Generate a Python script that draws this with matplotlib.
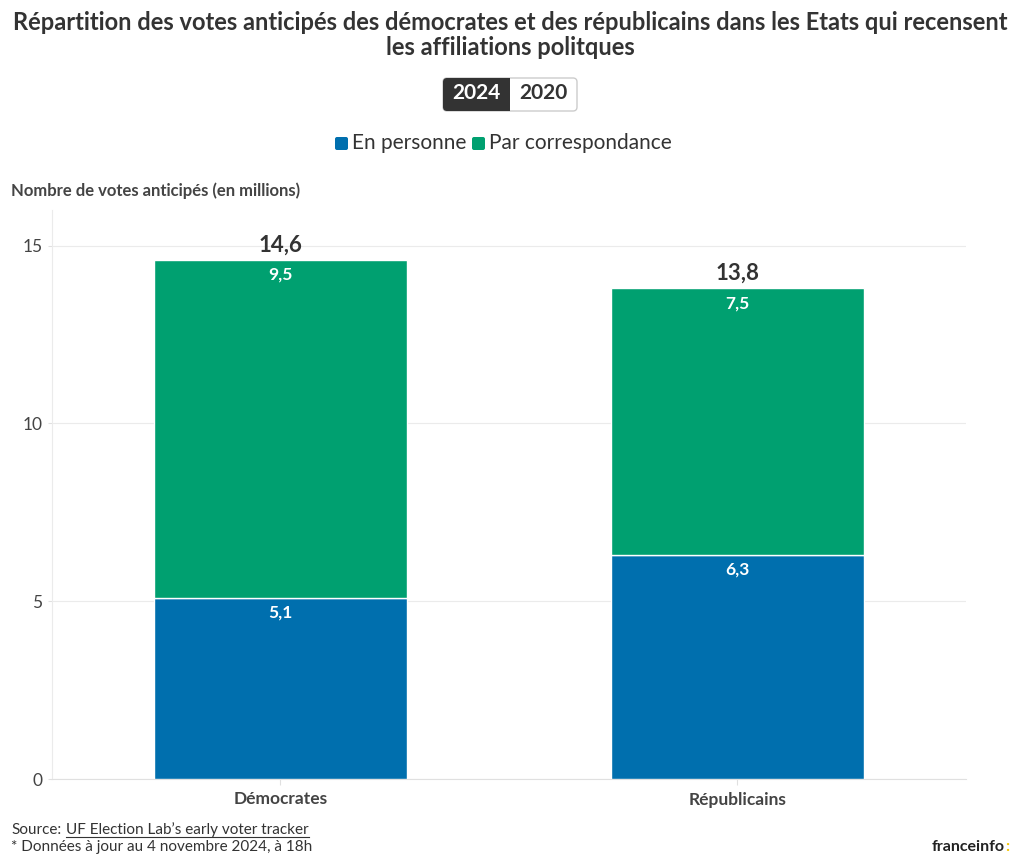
import matplotlib.pyplot as plt
from matplotlib.patches import FancyBboxPatch, Rectangle
from matplotlib.lines import Line2D
from matplotlib.transforms import IdentityTransform

# data (millions of early votes)
categories = ['Démocrates', 'Républicains']
en_personne = [5.1, 6.3]
par_correspondance = [9.5, 7.5]
yticks = [0, 5, 10, 15]

BLUE = '#006fae'
GREEN = '#00a070'
DARK = '#333333'
W, H = 1020, 868

plt.rcParams['font.family'] = ['Lato', 'DejaVu Sans']


def fx(px):
    return px / W


def fy(py):
    return 1 - py / H


def fmt(v):
    return f'{v:.1f}'.replace('.', ',')


fig = plt.figure(figsize=(W / 100, H / 100), dpi=100)
ax = fig.add_axes([fx(52), fy(779), fx(966) - fx(52), fy(210) - fy(779)])

x = list(range(len(categories)))
totals = [a + b for a, b in zip(en_personne, par_correspondance)]
ax.bar(x, en_personne, width=0.554, color=BLUE, edgecolor='white', linewidth=1, zorder=3)
ax.bar(x, par_correspondance, width=0.554, bottom=en_personne, color=GREEN,
       edgecolor='white', linewidth=1, zorder=3)

for i in x:
    ax.annotate(fmt(en_personne[i]), (i, en_personne[i]), xytext=(0, -5),
                textcoords='offset points', ha='center', va='top',
                color='white', fontsize=12.5, fontweight='bold', zorder=4)
    ax.annotate(fmt(par_correspondance[i]), (i, totals[i]), xytext=(0, -5),
                textcoords='offset points', ha='center', va='top',
                color='white', fontsize=12.5, fontweight='bold', zorder=4)
    ax.annotate(fmt(totals[i]), (i, totals[i]), xytext=(0, 3),
                textcoords='offset points', ha='center', va='bottom',
                color=DARK, fontsize=16, fontweight='bold', zorder=4)

ax.set_xlim(-0.5, 1.5)
ax.set_ylim(0, 16)
ax.set_yticks(yticks)
ax.set_yticklabels([str(t) for t in yticks], fontsize=12.5, color='#444444')
ax.set_xticks(x)
ax.set_xticklabels(categories, fontsize=12.5, fontweight='bold', color='#444444')
ax.grid(axis='y', color='#ebebeb', linewidth=0.8, zorder=0)
for s in ['top', 'right']:
    ax.spines[s].set_visible(False)
ax.spines['left'].set_color('#ebebeb')
ax.spines['bottom'].set_color('#e0e0e0')
ax.tick_params(axis='y', length=3, color='#e0e0e0', pad=4)
ax.tick_params(axis='x', length=4, color='#e0e0e0', pad=5)

# title
fig.text(0.5, fy(35), 'Répartition des votes anticipés des démocrates et des républicains dans les Etats qui recensent\nles affiliations politques',
         ha='center', va='center', fontsize=17, fontweight='bold', color=DARK, linespacing=1.1)

# year toggle (pixel coordinates from bottom-left)
ident = IdentityTransform()
outer = FancyBboxPatch((443, H - 111), 134, 33, boxstyle='round,pad=0,rounding_size=4',
                       facecolor='white', edgecolor='#cccccc', linewidth=1, transform=ident)
inner = FancyBboxPatch((443, H - 111), 67, 33, boxstyle='round,pad=0,rounding_size=4',
                       facecolor=DARK, edgecolor='none', transform=ident)
square = Rectangle((490, H - 111), 20, 33, facecolor=DARK, edgecolor='none', transform=ident)
fig.patches.extend([outer, inner, square])
fig.text(fx(476.5), fy(93), '2024', ha='center', va='center', fontsize=15,
         fontweight='bold', color='white')
fig.text(fx(543.5), fy(93), '2020', ha='center', va='center', fontsize=15,
         fontweight='bold', color=DARK)

# legend
for sx, col, label in [(335, BLUE, 'En personne'), (472, GREEN, 'Par correspondance')]:
    fig.patches.append(FancyBboxPatch((sx, H - 150), 13, 13, boxstyle='round,pad=0,rounding_size=2',
                                      facecolor=col, edgecolor='none', transform=ident))
    fig.text(fx(sx + 17), fy(143), label, ha='left', va='center', fontsize=15, color=DARK)

# y axis title
fig.text(fx(11), fy(191), 'Nombre de votes anticipés (en millions)', ha='left', va='center',
         fontsize=12, fontweight='bold', color='#444444')

# footer
src = fig.text(fx(11), fy(834), 'Source:', ha='left', va='baseline', fontsize=11, color=DARK)
fig.canvas.draw()
sb = src.get_window_extent()
link = fig.text((sb.x1 + 5) / W, fy(834), 'UF Election Lab’s early voter tracker',
                ha='left', va='baseline', fontsize=11, color=DARK)
fig.canvas.draw()
lb = link.get_window_extent()
uy = fy(837)
fig.add_artist(Line2D([lb.x0 / W, lb.x1 / W], [uy, uy], transform=fig.transFigure,
                      color=DARK, linewidth=0.8))
fig.text(fx(11), fy(847), '* Données à jour au 4 novembre 2024, à 18h', ha='left', va='center',
         fontsize=11, color=DARK)
fig.text(fx(1005), fy(847), 'franceinfo', ha='right', va='center', fontsize=11.5,
         fontweight='bold', color='#222222')
fig.text(fx(1005), fy(847), ':', ha='left', va='center', fontsize=11.5,
         fontweight='bold', color='#f5c400')

fig.savefig('out.png', dpi=100)
